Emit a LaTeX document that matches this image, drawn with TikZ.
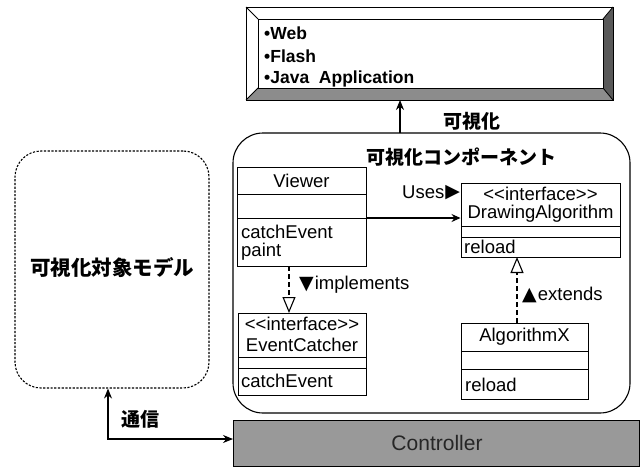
\documentclass[tikz,border=0pt]{standalone}
\usepackage{fontspec}
\setmainfont{Liberation Sans}[Ligatures=NoCommon]
\newfontfamily\jp{Noto Sans CJK JP}
\newfontfamily\sym{DejaVu Sans}
\usetikzlibrary{arrows.meta}
\newcommand{\stereo}[1]{{<}{<}#1{>}{>}}
\newcommand{\symb}[1]{\raisebox{0.5pt}{\sym\fontsize{19}{20}\selectfont #1}}
\begin{document}
\begin{tikzpicture}[x=1pt,y=-1pt,
  cls/.style={draw,line width=1pt,fill=white},
  sep/.style={line width=0.8pt},
  txt/.style={inner sep=0pt,font=\fontsize{18.5}{21}\selectfont},
  jlab/.style={inner sep=0pt,font=\jp\bfseries\fontsize{19}{22}\selectfont},
  conn/.style={line width=1.1pt},
  real/.style={conn,dashed,dash pattern=on 5pt off 3pt,-{Triangle[open,length=16pt,width=13pt]}},
  uses/.style={conn,-{Stealth[length=9pt,width=8pt,inset=3pt]}}
]
\useasboundingbox (0,0) rectangle (644,466);

% top bevelled box
\coordinate (o1) at (246,7);  \coordinate (o2) at (613,7);
\coordinate (o3) at (613,100);\coordinate (o4) at (246,100);
\coordinate (i1) at (258,19); \coordinate (i2) at (603,19);
\coordinate (i3) at (603,88); \coordinate (i4) at (258,88);
\fill[black!45] (o4) -- (o3) -- (i3) -- (i4) -- cycle;
\fill[black!65] (o2) -- (o3) -- (i3) -- (i2) -- cycle;
\draw[line width=1pt] (o1) rectangle (o3);
\draw[line width=0.8pt] (i1) rectangle (i3);
\draw[line width=0.8pt] (o1) -- (i1) (o2) -- (i2) (o3) -- (i3) (o4) -- (i4);
\node (top) at (429.5,53.5) [minimum width=345pt,minimum height=69pt,inner sep=0pt] {};
\node[anchor=west,inner sep=0pt,font=\bfseries\fontsize{17.5}{20}\selectfont] (web) at (264,33) {•Web};
\node[anchor=west,inner sep=0pt,font=\bfseries\fontsize{17.5}{20}\selectfont] (flash) at (264,56) {•Flash};
\node[anchor=west,inner sep=0pt,font=\bfseries\fontsize{17.5}{20}\selectfont] (java) at (264,79) {•Java\ \ Application};

% component container
\node[draw,line width=1.1pt,rounded corners=30pt,minimum width=397pt,minimum height=280pt,inner sep=0pt] (comp) at (431.5,273) {};
\node[jlab] (comptitle) at (461,157) {可視化コンポーネント};
\coordinate (visfoot) at (400,133);
\coordinate (vishead) at (400,100);
\draw[conn,-{Stealth[length=10pt,width=8pt]}] (visfoot) -- (vishead);
\node[jlab] (vislab) at (472,121) {可視化};

% Viewer
\node[cls,minimum width=129pt,minimum height=99pt,inner sep=0pt] (viewer) at (301.5,216.5) {};
\draw[sep] (237,194) -- (366,194) (237,218) -- (366,218);
\node[txt] (vname) at (301.5,180.5) {Viewer};
\node[txt,anchor=west] (vm1) at (241,232) {catchEvent};
\node[txt,anchor=west] (vm2) at (241,252) {paint};

% DrawingAlgorithm
\node[cls,minimum width=159pt,minimum height=74pt,inner sep=0pt] (draw) at (540.5,220) {};
\draw[sep] (461,226) -- (620,226) (461,237) -- (620,237);
\node[txt] (dst) at (540.5,194) {\stereo{interface}};
\node[txt] (dname) at (540.5,214) {DrawingAlgorithm};
\node[txt,anchor=west] (dm1) at (464,247) {reload};

% EventCatcher
\node[cls,minimum width=128pt,minimum height=82pt,inner sep=0pt] (ec) at (302,354) {};
\draw[sep] (238,357) -- (366,357) (238,368) -- (366,368);
\node[txt] (est) at (302,324) {\stereo{interface}};
\node[txt] (ename) at (302,345) {EventCatcher};
\node[txt,anchor=west] (em1) at (241,381) {catchEvent};

% AlgorithmX
\node[cls,minimum width=127pt,minimum height=76pt,inner sep=0pt] (ax) at (524.5,361) {};
\draw[sep] (461,351) -- (588,351) (461,369) -- (588,369);
\node[txt] (axname) at (524.5,337) {AlgorithmX};
\node[txt,anchor=west] (axm1) at (465,385) {reload};

% connectors
\draw[uses] (viewer.east |- 0,218) -- (draw.west |- 0,218);
\node[txt,anchor=west] (useslab) at (402,193) {Uses\hspace{1pt}\symb{▶}};
\draw[real] (289,266) -- (289,313);
\node[txt,anchor=west] (implab) at (299,285) {\symb{▼}\hspace{1pt}implements};
\draw[real] (517,323) -- (517,257);
\node[txt,anchor=west] (extlab) at (522,295) {\symb{▲}\hspace{1pt}extends};

% model
\node[draw,line width=1.1pt,dash pattern=on 2.2pt off 1.5pt,rounded corners=26pt,minimum width=194pt,minimum height=237pt,inner sep=0pt] (model) at (112,269.5) {};
\node[jlab,font=\jp\bfseries\fontsize{20.5}{24}\selectfont] (modellab) at (112,268) {可視化対象モデル};

% controller
\node[draw,line width=1pt,fill=black!40,minimum width=406pt,minimum height=46pt,inner sep=0pt,anchor=north west] (ctrl) at (233,420) {};
\node[inner sep=0pt,font=\fontsize{21}{24}\selectfont,text=black!85] (ctrllab) at (437,443) {Controller};

% communication
\coordinate (bend) at (108,439);
\draw[conn,{Stealth[length=10pt,width=8pt]}-{Stealth[length=10pt,width=8pt]}] (model.south -| bend) -- (bend) -- (ctrl.west |- bend);
\node[jlab] (commlab) at (140,419) {通信};
\end{tikzpicture}
\end{document}
